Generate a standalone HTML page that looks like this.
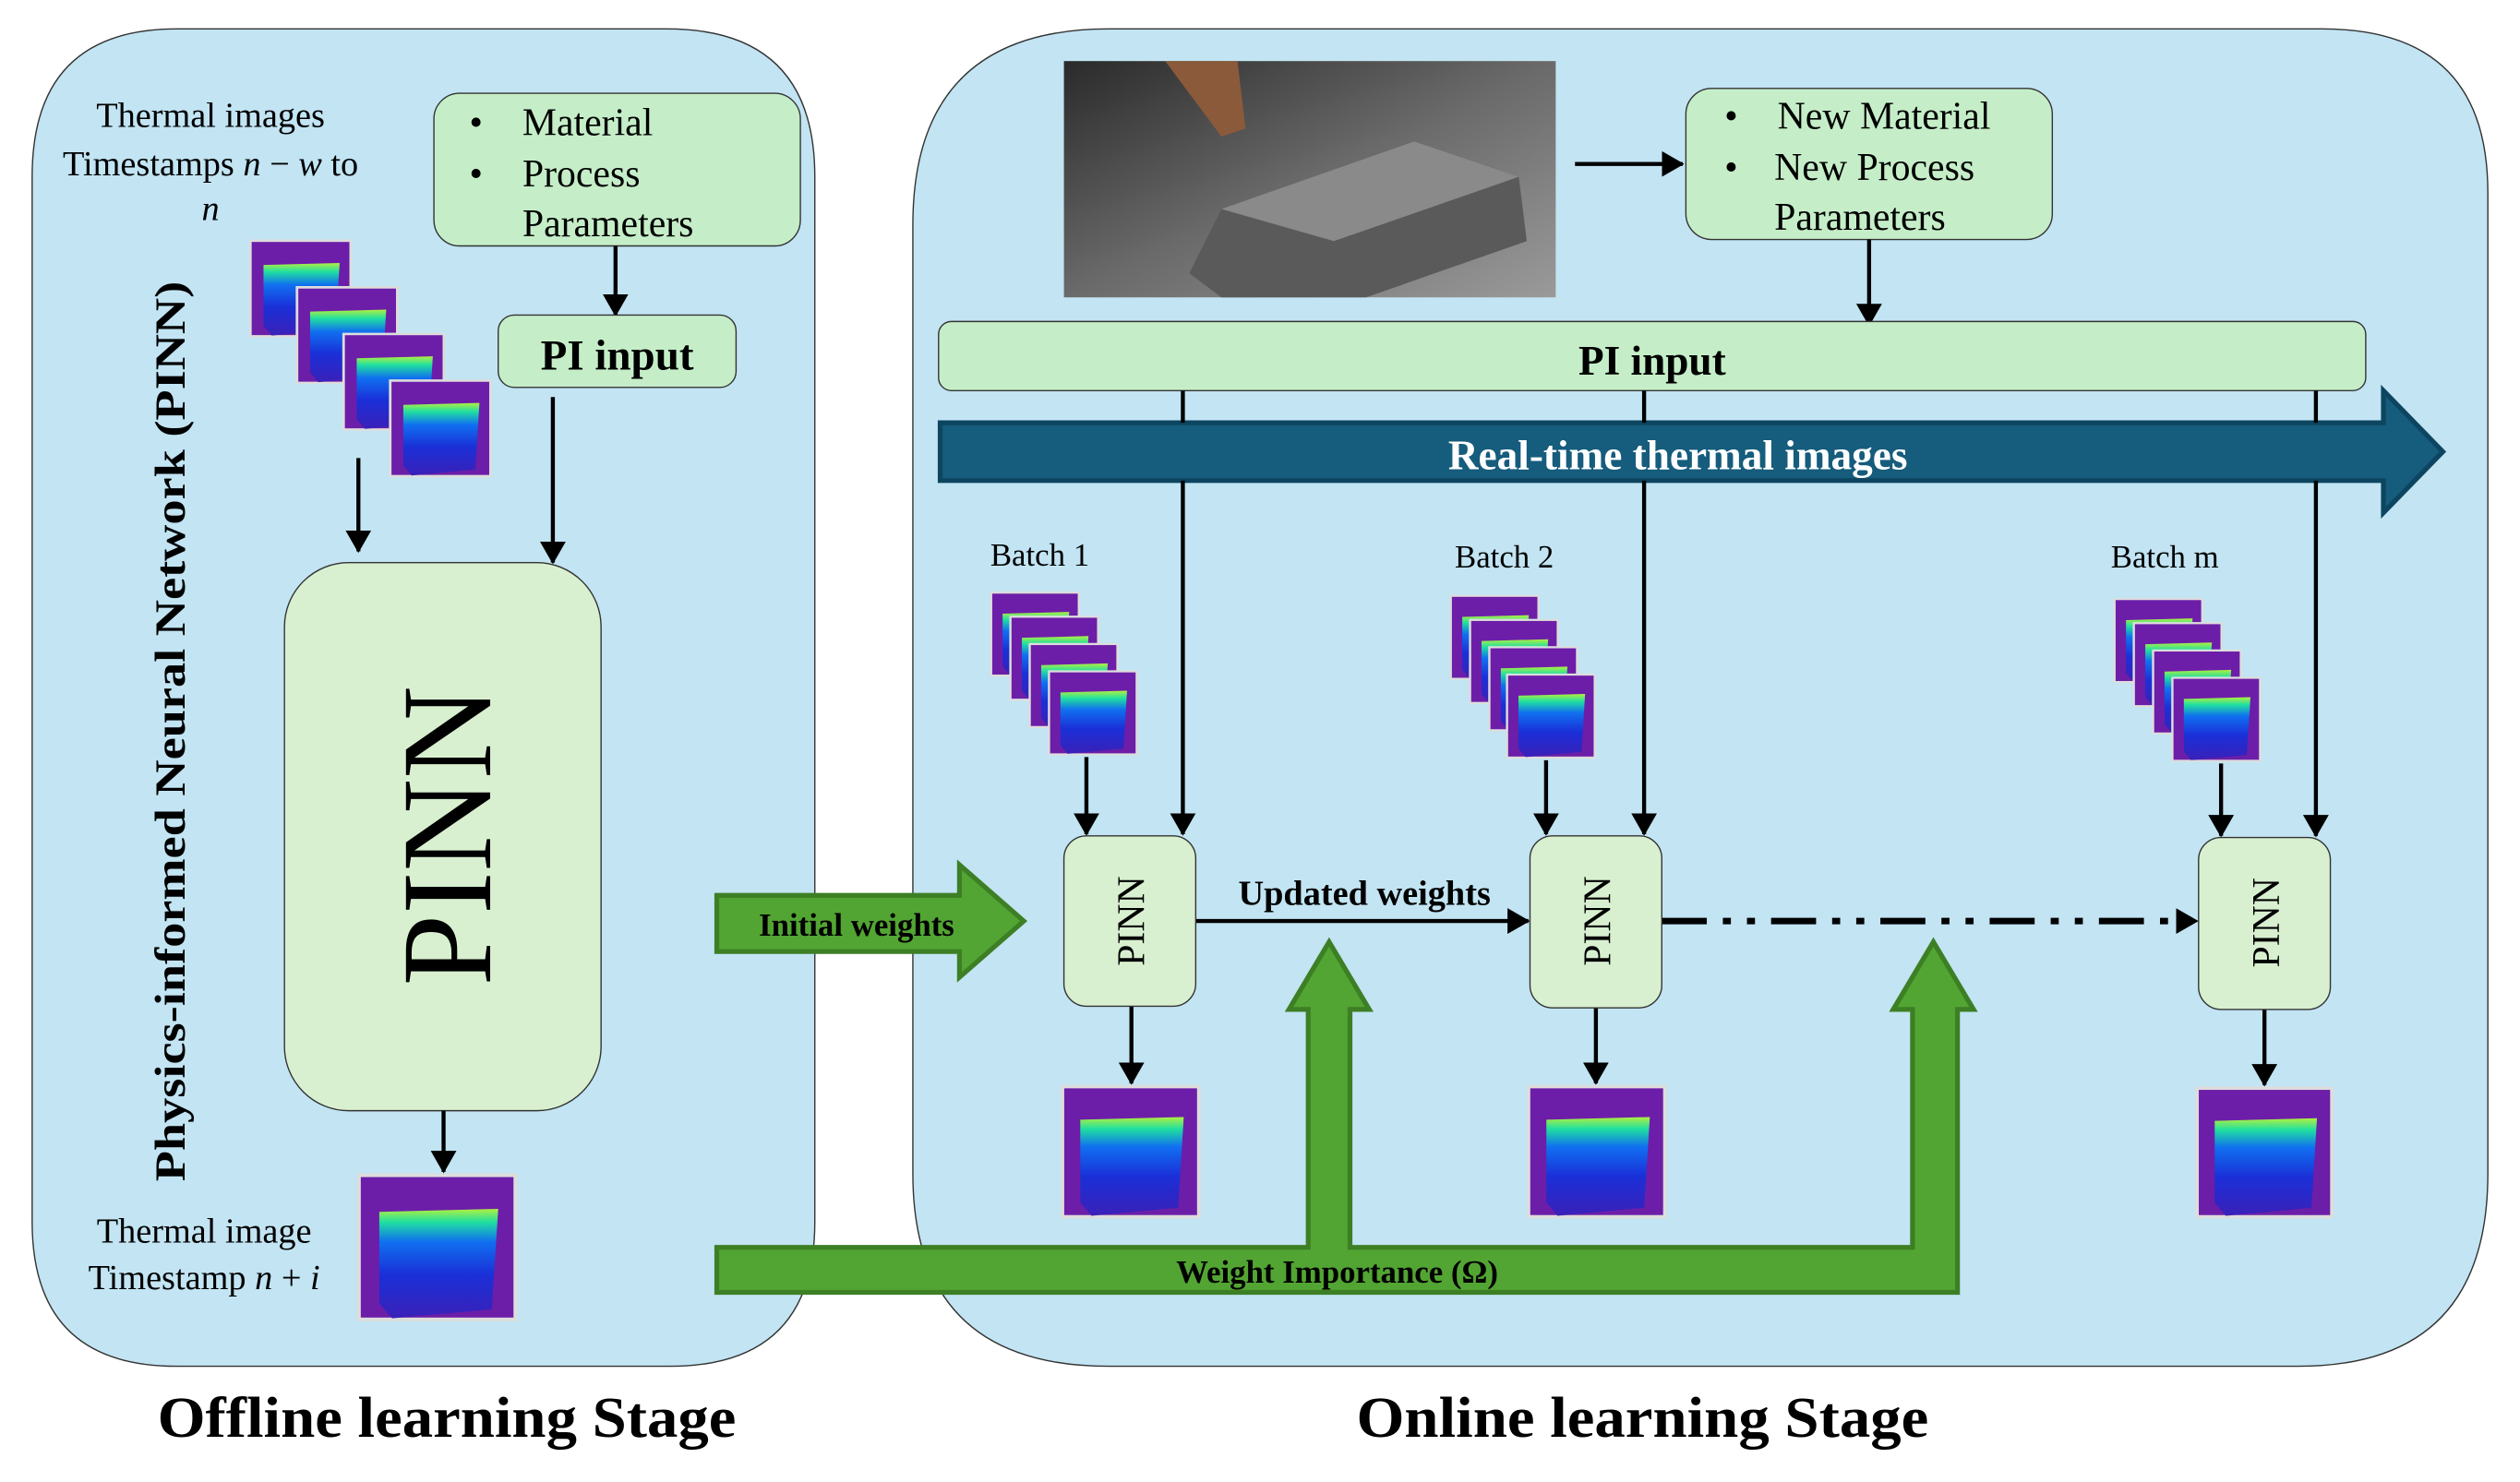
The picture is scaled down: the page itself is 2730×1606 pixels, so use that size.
<!DOCTYPE html>
<html><head><meta charset="utf-8"><style>html,body{margin:0;padding:0;background:#fff}svg{display:block}text{font-family:"Liberation Serif",serif}</style></head>
<body>
<svg width="2730" height="1606" viewBox="0 0 1568 922" preserveAspectRatio="none" xmlns="http://www.w3.org/2000/svg">
<defs>
<linearGradient id="tg" x1="0" y1="0" x2="0" y2="1">
<stop offset="0" stop-color="#b0f040"/><stop offset="0.12" stop-color="#20e0a0"/><stop offset="0.3" stop-color="#1070f0"/><stop offset="0.6" stop-color="#1a30d8"/><stop offset="1" stop-color="#3a20b8"/></linearGradient>
<linearGradient id="ph" x1="0" y1="0" x2="1" y2="1">
<stop offset="0" stop-color="#2a2a2a"/><stop offset="0.5" stop-color="#6a6a6a"/><stop offset="1" stop-color="#9a9a9a"/></linearGradient>
<symbol id="th" viewBox="0 0 100 100" preserveAspectRatio="none">
<rect x="1" y="1" width="98" height="98" fill="#6c1ea8" stroke="#dddddd" stroke-width="3"/>
<polygon points="14,26 88,24 84,92 22,98 14,88" fill="url(#tg)"/>
</symbol>
<marker id="ah2" markerWidth="14" markerHeight="16" refX="13" refY="8" orient="auto" markerUnits="userSpaceOnUse"><path d="M0,0 L14,8 L0,16 Z" fill="#000"/></marker>
</defs>
<rect width="1568" height="922" fill="#fff"/>
<path d="M110,18 H415 Q507,18 507,110 V760 Q507,850 417,850 H110 Q20,850 20,760 V110 Q20,18 110,18 Z" fill="#c2e4f3" stroke="#333" stroke-width="0.8"/>
<path d="M690,18 H1445 Q1548,18 1548,120 V730 Q1548,850 1430,850 H690 Q568,850 568,730 V140 Q568,18 690,18 Z" fill="#c2e4f3" stroke="#333" stroke-width="0.8"/>
<text x="278" y="894" font-size="36" font-weight="bold" text-anchor="middle" textLength="360" lengthAdjust="spacingAndGlyphs">Offline learning Stage</text>
<text x="1022" y="894" font-size="36" font-weight="bold" text-anchor="middle" textLength="356" lengthAdjust="spacingAndGlyphs">Online learning Stage</text>
<g font-size="22" text-anchor="middle">
<text x="131" y="79">Thermal images</text>
<text x="131" y="109">Timestamps <tspan font-style="italic">n</tspan> − <tspan font-style="italic">w</tspan> to</text>
<text x="131" y="137" font-style="italic">n</text>
</g>
<rect x="270" y="58" width="228" height="95" rx="16" fill="#c5eec8" stroke="#333" stroke-width="0.8"/>
<g font-size="24"><text x="292" y="84">•</text><text x="325" y="84">Material</text>
<text x="292" y="116">•</text><text x="325" y="116">Process</text><text x="325" y="147">Parameters</text></g>
<line x1="383" y1="153" x2="383" y2="196" stroke="#000" stroke-width="2.5" marker-end="url(#ah2)"/>
<rect x="310" y="196" width="148" height="45" rx="10" fill="#c5eec8" stroke="#333" stroke-width="0.8"/>
<text x="384" y="230" font-size="27" font-weight="bold" text-anchor="middle">PI input</text>
<use href="#th" x="155" y="149" width="64" height="61"/>
<use href="#th" x="184" y="178" width="64" height="61"/>
<use href="#th" x="213" y="207" width="64" height="61"/>
<use href="#th" x="242" y="236" width="64" height="61"/>
<line x1="223" y1="285" x2="223" y2="343" stroke="#000" stroke-width="2.5" marker-end="url(#ah2)"/>
<line x1="344" y1="247" x2="344" y2="350" stroke="#000" stroke-width="2.5" marker-end="url(#ah2)"/>
<rect x="177" y="350" width="197" height="341" rx="40" fill="#d8f0d0" stroke="#333" stroke-width="0.8"/>
<text transform="rotate(-90 277 520)" x="277" y="548" font-size="80" text-anchor="middle">PINN</text>
<text transform="rotate(-90 106 455)" x="106" y="464" font-size="27" font-weight="bold" text-anchor="middle" textLength="560" lengthAdjust="spacingAndGlyphs">Physics-informed Neural Network (PINN)</text>
<line x1="276" y1="691" x2="276" y2="729" stroke="#000" stroke-width="2.5" marker-end="url(#ah2)"/>
<use href="#th" x="222" y="730" width="100" height="92"/>
<g font-size="22" text-anchor="middle"><text x="127" y="773">Thermal image</text>
<text x="127" y="802">Timestamp  <tspan font-style="italic">n</tspan> + <tspan font-style="italic">i</tspan></text></g>
<rect x="662" y="38" width="306" height="147" fill="url(#ph)"/>
<polygon points="740,170 760,130 880,88 945,110 950,150 850,185 760,185" fill="#5a5a5a"/>
<polygon points="760,130 880,88 945,110 830,150" fill="#8a8a8a"/>
<polygon points="725,38 770,38 775,80 760,85" fill="#8a5a3a"/>
<line x1="980" y1="102" x2="1047" y2="102" stroke="#000" stroke-width="2.5" marker-end="url(#ah2)"/>
<rect x="1049" y="55" width="228" height="94" rx="16" fill="#c5eec8" stroke="#333" stroke-width="0.8"/>
<g font-size="24"><text x="1073" y="80">•</text><text x="1106" y="80">New Material</text>
<text x="1073" y="112">•</text><text x="1104" y="112">New Process</text><text x="1104" y="143">Parameters</text></g>
<line x1="1163" y1="149" x2="1163" y2="202" stroke="#000" stroke-width="2.5" marker-end="url(#ah2)"/>
<rect x="584" y="200" width="888" height="43" rx="8" fill="#c5eec8" stroke="#333" stroke-width="0.8"/>
<text x="1028" y="233" font-size="26" font-weight="bold" text-anchor="middle">PI input</text>
<polygon points="585,263 1483,263 1483,243 1520,281 1483,319 1483,299 585,299" fill="#165c7c" stroke="#0d4560" stroke-width="3"/>
<text x="1044" y="292" font-size="26" font-weight="bold" fill="#fff" text-anchor="middle">Real-time thermal images</text>
<g stroke="#000" stroke-width="2.5">
<line x1="736" y1="243" x2="736" y2="263"/><line x1="736" y1="299" x2="736" y2="519" marker-end="url(#ah2)"/>
<line x1="1023" y1="243" x2="1023" y2="263"/><line x1="1023" y1="299" x2="1023" y2="519" marker-end="url(#ah2)"/>
<line x1="1441" y1="243" x2="1441" y2="263"/><line x1="1441" y1="299" x2="1441" y2="520" marker-end="url(#ah2)"/>
</g>
<g font-size="20" text-anchor="middle"><text x="647" y="352">Batch 1</text><text x="936" y="353">Batch 2</text><text x="1347" y="353">Batch m</text></g>
<use href="#th" x="616" y="368" width="56" height="53"/><use href="#th" x="628" y="383" width="56" height="53"/><use href="#th" x="640" y="400" width="56" height="53"/><use href="#th" x="652" y="417" width="56" height="53"/>
<use href="#th" x="902" y="370" width="56" height="53"/><use href="#th" x="914" y="385" width="56" height="53"/><use href="#th" x="926" y="402" width="56" height="53"/><use href="#th" x="937" y="419" width="56" height="53"/>
<use href="#th" x="1315" y="372" width="56" height="53"/><use href="#th" x="1327" y="387" width="56" height="53"/><use href="#th" x="1339" y="404" width="56" height="53"/><use href="#th" x="1351" y="421" width="56" height="53"/>
<g stroke="#000" stroke-width="2.5">
<line x1="676" y1="471" x2="676" y2="519" marker-end="url(#ah2)"/>
<line x1="962" y1="473" x2="962" y2="519" marker-end="url(#ah2)"/>
<line x1="1382" y1="475" x2="1382" y2="520" marker-end="url(#ah2)"/>
<line x1="704" y1="626" x2="704" y2="674" marker-end="url(#ah2)"/>
<line x1="993" y1="627" x2="993" y2="674" marker-end="url(#ah2)"/>
<line x1="1409" y1="628" x2="1409" y2="675" marker-end="url(#ah2)"/>
<line x1="744" y1="573" x2="951" y2="573" marker-end="url(#ah2)"/>
<line x1="1034" y1="573" x2="1367" y2="573" stroke-width="4" stroke-dasharray="28,10,5,10,5,10" marker-end="url(#ah2)"/>
</g>
<rect x="662" y="520" width="82" height="106" rx="14" fill="#d8f0d0" stroke="#333" stroke-width="0.8"/>
<rect x="952" y="520" width="82" height="107" rx="14" fill="#d8f0d0" stroke="#333" stroke-width="0.8"/>
<rect x="1368" y="521" width="82" height="107" rx="14" fill="#d8f0d0" stroke="#333" stroke-width="0.8"/>
<g font-size="24" text-anchor="middle">
<text transform="rotate(-90 704 573)" x="704" y="581">PINN</text>
<text transform="rotate(-90 994 573)" x="994" y="581">PINN</text>
<text transform="rotate(-90 1410 574)" x="1410" y="582">PINN</text></g>
<text x="849" y="563" font-size="22" font-weight="bold" text-anchor="middle">Updated weights</text>
<use href="#th" x="660" y="675" width="87" height="83"/>
<use href="#th" x="950" y="675" width="87" height="83"/>
<use href="#th" x="1366" y="676" width="86" height="82"/>
<polygon points="446,557 597,557 597,538 637,573 597,608 597,592 446,592" fill="#52a532" stroke="#3d7f25" stroke-width="3"/>
<text x="533" y="582" font-size="20" font-weight="bold" text-anchor="middle">Initial weights</text>
<polygon points="446,776 814,776 814,628 802,628 827,586 852,628 840,628 840,776 1190,776 1190,628 1178,628 1203,586 1228,628 1218,628 1218,804 446,804" fill="#52a532" stroke="#3d7f25" stroke-width="3"/>
<text x="832" y="798" font-size="20" font-weight="bold" text-anchor="middle">Weight Importance (Ω)</text>
</svg>
</body></html>
